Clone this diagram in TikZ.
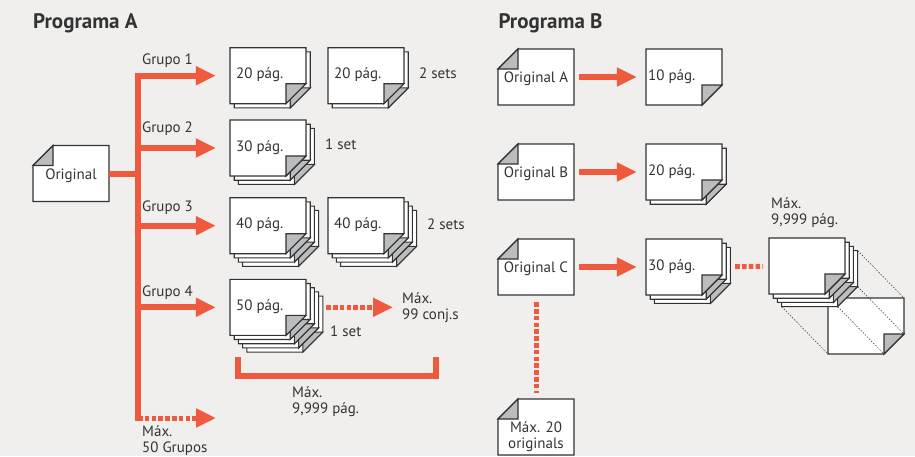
\documentclass[tikz,border=0pt]{standalone}
\usepackage{fontspec}
\setmainfont{PT Sans}
\usetikzlibrary{arrows.meta}

\definecolor{naranja}{HTML}{EF5A3F}
\definecolor{fondo}{HTML}{F0EFED}
\definecolor{gris}{HTML}{BBBCBE}
\definecolor{tinta}{HTML}{333333}

% hoja con la esquina doblada abajo a la derecha
\newcommand{\pag}[1]{%
  \begin{scope}[shift={#1}]
    \draw[borde,fill=white] (0,0) -- (76,0) -- (76,36) -- (56,56) -- (0,56) -- cycle;
    \draw[borde,fill=gris] (56,36) -- (76,36) -- (56,56) -- cycle;
  \end{scope}}

% original, esquina doblada arriba a la izquierda
\newcommand{\original}[4][]{%
  \begin{scope}[shift={#2}]
    \draw[borde,fill=white] (0,20) -- (20,0) -- (76,0) -- (76,56) -- (0,56) -- cycle;
    \draw[borde,fill=gris] (0,20) -- (20,0) -- (20,20) -- cycle;
    \node[hoja] (#3) at (38,28) {};
    \node[rotulo,align=center,#1] (#3-t) at (38,30) {#4};
  \end{scope}}

% juego de copias: #4 hojas detras
\newcommand{\copias}[5][6]{%
  \begin{scope}[shift={#2}]
    \ifnum#4>0
      \foreach \k in {#4,...,1} {\pag{(4.2*\k,4.2*\k)}}
    \fi
    \pag{(0,0)}
    \node[hoja] (#3) at (38,28) {};
    \node[rotulo,anchor=base west] (#3-t) at (#1,31) {#5};
  \end{scope}}

\begin{document}
\begin{tikzpicture}[x=1pt,y=-1pt,
  borde/.style={draw=tinta,line width=1.1pt},
  hoja/.style={minimum width=76pt,minimum height=56pt,inner sep=0pt},
  rotulo/.style={font=\fontsize{15}{16}\selectfont,text=tinta,inner sep=0pt},
  titulo/.style={font=\fontsize{21}{24}\selectfont\bfseries,text=tinta,inner sep=0pt},
  linea/.style={draw=naranja,line width=6pt},
  flecha/.style={linea,-{Triangle[length=20pt,width=18pt]}},
  puntos/.style={draw=naranja,line width=5pt,dash pattern=on 4.6pt off 2.2pt},
  fina/.style={draw=tinta,line width=0.5pt,dash pattern=on 1.5pt off 1.5pt}]

\useasboundingbox[fill=fondo] (0,0) rectangle (915,456);

%Programa A

\node[titulo,anchor=base west] (tA) at (33,28.3) {Programa A};
\original{(33,145.5)}{orig}{Original}

\coordinate (tarriba) at (138,73);
\coordinate (tabajo) at (138,421);
\coordinate (tronco) at (138,76);
\coordinate (fin) at (216,418);

\node[rotulo,anchor=base west] (gr1) at (142,64.3) {Grupo 1};
\node[rotulo,anchor=base west] (gr2) at (142,132.7) {Grupo 2};
\node[rotulo,anchor=base west] (gr3) at (142,211.7) {Grupo 3};
\node[rotulo,anchor=base west] (gr4) at (142,296) {Grupo 4};

\copias{(230,47.7)}{g1a}{1}{20 pág.}
\copias{(328,47.7)}{g1b}{1}{20 pág.}
\node[rotulo,anchor=base west] (s1) at (419,78.7) {2 sets};

\copias{(230,120)}{g2}{2}{30 pág.}
\node[rotulo,anchor=base west] (s2) at (325,149) {1 set};

\copias{(230,197.7)}{g3a}{3}{40 pág.}
\copias{(328,197.7)}{g3b}{3}{40 pág.}
\node[rotulo,anchor=base west] (s3) at (427,229) {2 sets};

\copias{(230,279.3)}{g4}{4}{50 pág.}
\node[rotulo,anchor=base west] (s4) at (330,336.7) {1 set};
\node[rotulo,anchor=north west,align=left] (m99) at (402,292.5) {Máx.\\99 conj.s};

\draw[linea] (orig) -- (orig -| tronco);
\draw[linea] (tarriba) -- (tabajo);
\draw[flecha,shorten >=14pt] (tronco |- g1a) -- (g1a);
\draw[flecha,shorten >=14pt] (tronco |- g2) -- (g2);
\draw[flecha,shorten >=14pt] (tronco |- g3a) -- (g3a);
\draw[flecha,shorten >=14pt] (tronco |- g4) -- (g4);
\draw[puntos,-{Triangle[length=20pt,width=18pt]}] (tronco |- fin) -- (fin);
\draw[puntos,-{Triangle[length=20pt,width=18pt]},shorten <=20pt,shorten >=9pt] (g4) -- (g4 -| m99.west);

\draw[linea] (238,357) -- (238,376) -- (436,376) -- (436,357);
\node[rotulo,anchor=north west,align=left] (m9999) at (292,386.8) {Máx.\\9,999 pág.};
\node[rotulo,anchor=north west,align=left] (m50) at (142,425) {Máx.\\50 Grupos};

%Programa B

\node[titulo,anchor=base west] (tB) at (498.3,28.3) {Programa B};
\original{(498,49)}{oA}{Original A}
\original{(498,144)}{oB}{Original B}
\original{(498,239)}{oC}{Original C}
\original[yshift=-8pt]{(498,399)}{oD}{Máx. 20\\originals}

\copias[2]{(646,49)}{cA}{0}{10 pág.}
\copias[2]{(646,144)}{cB}{1}{20 pág.}
\copias[2]{(646,239)}{cC}{2}{30 pág.}

% pagina 9.999 y pila
\pag{(828,298)}
\begin{scope}[shift={(781.6,250.6)}]
  \foreach \p in {(76,0),(0,56),(76,36),(56,56)}
    \draw[fina] \p -- ++(46.4,47.4);
\end{scope}
\copias{(769,238)}{grande}{3}{}
\node[rotulo,anchor=north west,align=left] (mB) at (771,197.8) {Máx.\\9,999 pág.};

\draw[flecha,shorten <=5pt,shorten >=9pt] (oA) -- (cA);
\draw[flecha,shorten <=5pt,shorten >=9pt] (oB) -- (cB);
\draw[flecha,shorten <=5pt,shorten >=9pt] (oC) -- (cC);
\draw[puntos,shorten <=13pt,shorten >=6pt] (cC) -- (grande);
\draw[puntos,shorten <=7pt,shorten >=6pt] (oC) -- (oD);

\end{tikzpicture}
\end{document}
